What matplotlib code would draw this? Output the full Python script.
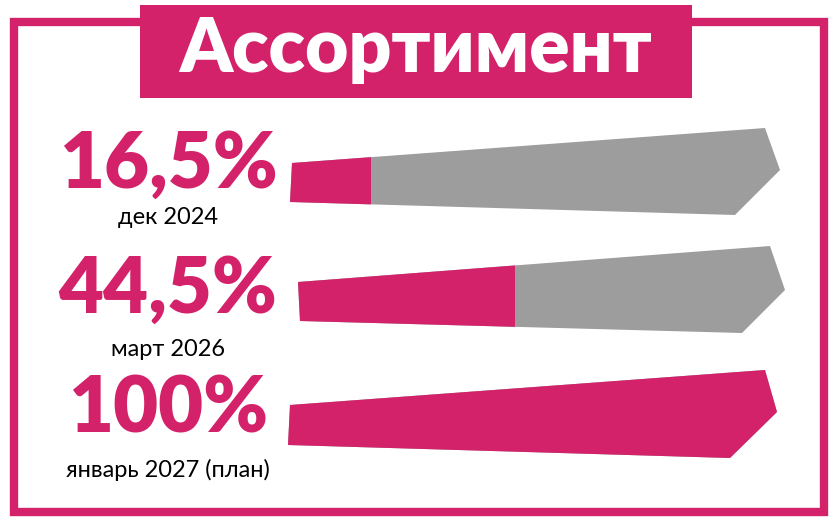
import matplotlib
matplotlib.use("Agg")
import matplotlib.pyplot as plt
from matplotlib.patches import Polygon, Rectangle

values = [16.5, 44.5, 100]
big_labels = ["16,5%", "44,5%", "100%"]
sub_labels = ["дек 2024", "март 2026", "январь 2027 (план)"]
title = "Ассортимент"

PINK = "#D4226A"
GREY = "#9D9D9D"

fig = plt.figure(figsize=(8.39, 5.24), dpi=100)
ax = fig.add_axes([0, 0, 1, 1])
ax.set_xlim(0, 839); ax.set_ylim(524, 0); ax.axis("off")

# border and title box
ax.add_patch(Rectangle((14, 22), 810, 490, fill=False, ec=PINK, lw=6))
ax.add_patch(Rectangle((140, 5), 552, 93, fc=PINK, ec="none"))
ax.text(416, 50, title, color="white", fontsize=54, fontweight="heavy",
        family="Lato", ha="center", va="center")

# bar shapes (left-top, right-top, right-tip, right-bottom, left-bottom), offsets per row
shapes = [
    [(292, 163), (765, 128), (780, 170), (735, 215), (290, 202)],
    [(298, 282), (770, 246), (785, 290), (742, 333), (300, 321)],
    [(290, 405), (765, 370), (777, 412), (730, 458), (288, 445)],
]
text_y = [165, 290, 410]
sub_y = [217, 350, 470]
text_x = [168, 168, 168]

for i, v in enumerate(values):
    pts = shapes[i]
    left = min(p[0] for p in pts); right = max(p[0] for p in pts)
    ax.add_patch(Polygon(pts, closed=True, fc=GREY, ec="none"))
    pink = Polygon(pts, closed=True, fc=PINK, ec="none")
    ax.add_patch(pink)
    clip = Rectangle((left, 0), (right - left) * v / 100, 524, transform=ax.transData)
    pink.set_clip_path(clip)
    ax.text(text_x[i], text_y[i], big_labels[i], color=PINK, fontsize=56,
            fontweight="heavy", family="Lato", ha="center", va="center")
    ax.text(text_x[i], sub_y[i], sub_labels[i], color="black", fontsize=17,
            family="Lato", ha="center", va="center")

fig.savefig("out.png", dpi=100)
